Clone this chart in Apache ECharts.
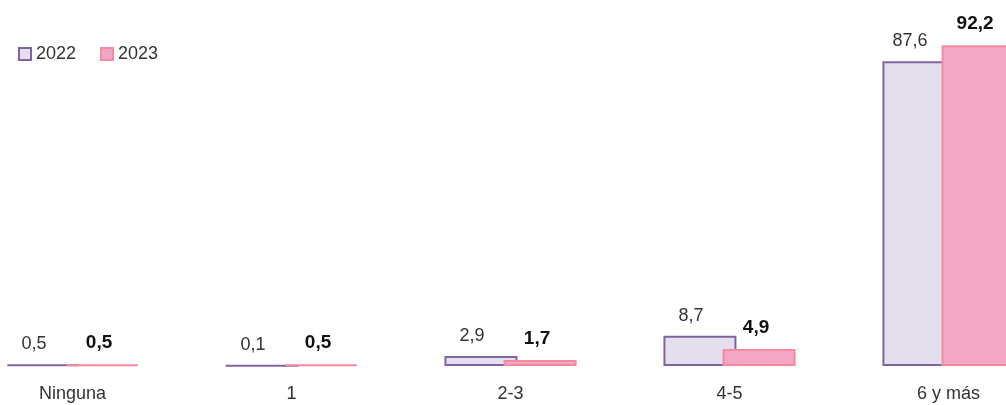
<!DOCTYPE html>
<html>
<head>
<meta charset="utf-8">
<script src="https://cdn.jsdelivr.net/npm/echarts@6/dist/echarts.min.js"></script>
<style>
  html, body { margin: 0; padding: 0; background: #ffffff; }
  #chart { width: 1006px; height: 405px; }
</style>
</head>
<body>
<div id="chart"></div>
<script>
// Number of items, grouped, with share (%) per year
const categories = ['Ninguna', '1', '2-3', '4-5', '6 y más'];
const seriesNames = ['2022', '2023'];
const values2022 = [0.5, 0.1, 2.9, 8.7, 87.6];
const values2023 = [0.5, 0.5, 1.7, 4.9, 92.2];

const FONT = '"Liberation Sans", Arial, sans-serif';
const fmt = v => String(v.value).replace('.', ',');

const chart = echarts.init(document.getElementById('chart'), null, { renderer: 'canvas' });

chart.setOption({
  animation: false,
  textStyle: { fontFamily: FONT },
  legend: {
    left: 18,
    top: 45,
    padding: 0,
    itemWidth: 12,
    itemHeight: 12,
    itemGap: 24,
    icon: 'rect',
    textStyle: { fontSize: 18, color: '#333333', fontFamily: FONT },
    data: seriesNames
  },
  grid: { left: -37, width: 1095, top: 18, bottom: 39, outerBoundsMode: 'none', containLabel: false },
  xAxis: {
    type: 'category',
    data: categories,
    axisLine: { show: false },
    axisTick: { show: false },
    axisLabel: { fontSize: 18, color: '#333333', margin: 19, fontFamily: FONT }
  },
  yAxis: {
    type: 'value',
    min: 0,
    max: 100,
    show: false,
    splitLine: { show: false }
  },
  series: [
    {
      name: seriesNames[0],
      type: 'bar',
      data: values2022,
      barWidth: 73,
      barGap: '-19%',
      itemStyle: { color: '#e4dfec', borderColor: '#8064a2', borderWidth: 2 },
      label: {
        show: true,
        position: 'top',
        distance: 11,
        offset: [-9, 0],
        formatter: fmt,
        fontSize: 18,
        color: '#333333',
        fontFamily: FONT
      }
    },
    {
      name: seriesNames[1],
      type: 'bar',
      data: values2023,
      barWidth: 73,
      itemStyle: { color: '#f4a7c5', borderColor: '#f7899f', borderWidth: 2 },
      label: {
        show: true,
        position: 'top',
        distance: 12,
        offset: [-3, 0],
        formatter: fmt,
        fontSize: 19,
        fontWeight: 'bold',
        color: '#111111',
        fontFamily: FONT
      }
    }
  ]
});
</script>
</body>
</html>
